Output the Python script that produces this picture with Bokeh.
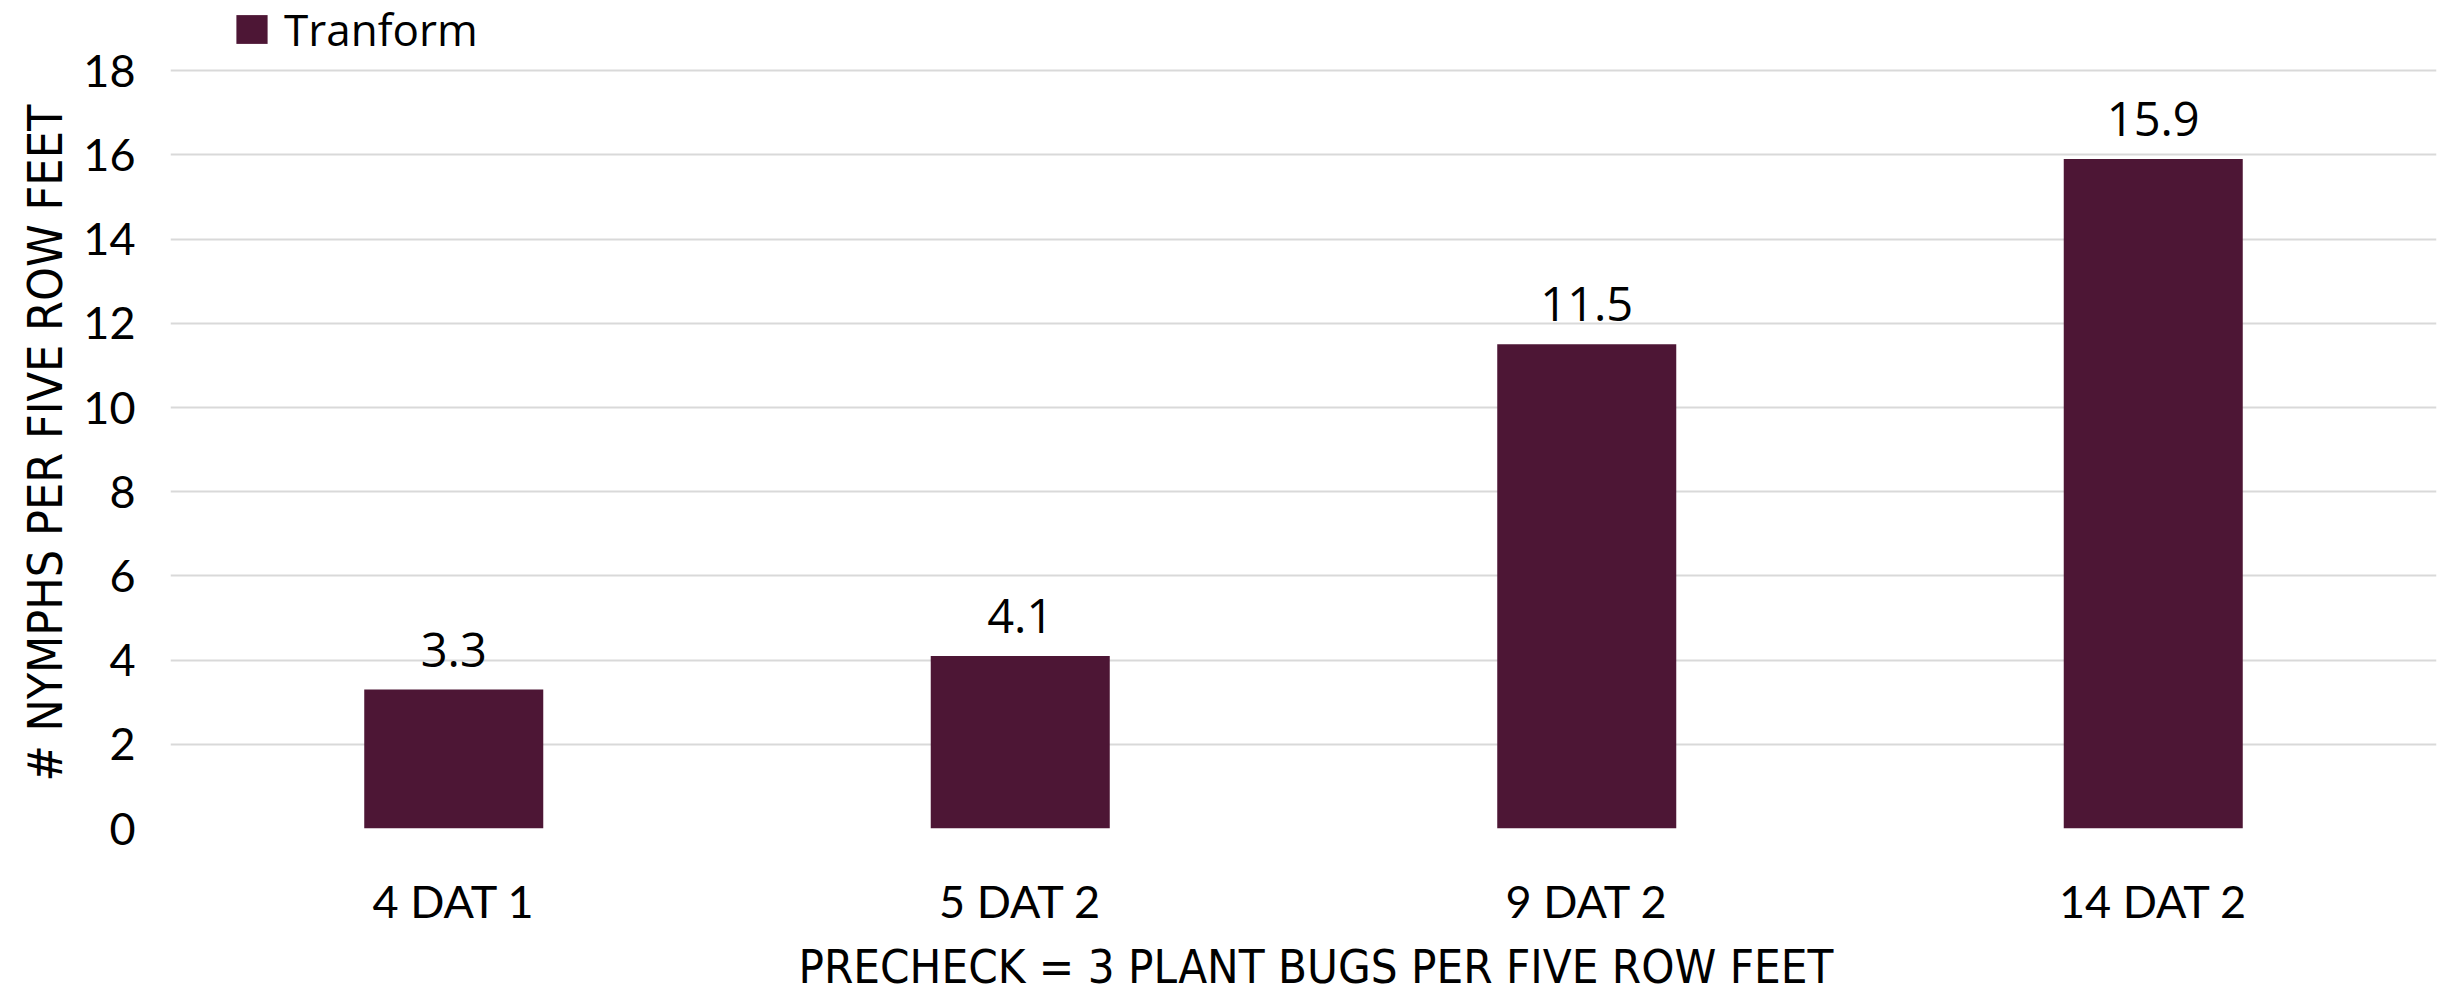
from bokeh.plotting import figure
from bokeh.models import ColumnDataSource, FactorRange, Range1d, Legend, LegendItem, FixedTicker, Title
from bokeh.core.properties import value
from bokeh.embed import file_html
from bokeh.resources import INLINE

categories = ["4 DAT 1", "5 DAT 2", "9 DAT 2", "14 DAT 2"]
values = [3.3, 4.1, 11.5, 15.9]
labels = ["3.3", "4.1", "11.5", "15.9"]
y_ticks = [0, 2, 4, 6, 8, 10, 12, 14, 16, 18]
series_name = "Tranform"
y_title = "# NYMPHS PER FIVE ROW FEET"
x_title = "PRECHECK = 3 PLANT BUGS PER FIVE ROW FEET"

BAR = "#4D1635"
NARROW = "'Liberation Sans Narrow', 'DejaVu Sans Condensed', sans-serif"

# frame extends above 18 to leave room for the legend inside the plot area
FRAME_H = 828
PX_PER_UNIT = 42.1
Y_TOP = FRAME_H / PX_PER_UNIT

src = ColumnDataSource(dict(cat=categories, val=values, lab=labels))

p = figure(x_range=FactorRange(factors=categories, range_padding=0),
           y_range=Range1d(0, Y_TOP),
           frame_width=2266, frame_height=FRAME_H, output_backend="svg", toolbar_location=None,
           min_border_left=170, min_border_right=6, min_border_top=0, min_border_bottom=150)
p.outline_line_color = None
p.background_fill_color = "white"
p.border_fill_color = "white"

bars = p.vbar(x="cat", top="val", width=0.316, source=src, fill_color=BAR, line_color=None)
p.text(x="cat", y="val", text="lab", source=src, text_align="center", text_baseline="alphabetic",
       y_offset=-40, text_font=value("Open Sans"), text_font_size="47px", text_color="black")

p.yaxis.ticker = FixedTicker(ticks=y_ticks)
p.xgrid.grid_line_color = None
p.ygrid.grid_line_color = "#d9d9d9"
p.ygrid.grid_line_width = 2

for ax in (p.xaxis[0], p.yaxis[0]):
    ax.axis_line_color = None
    ax.major_tick_line_color = None
    ax.minor_tick_line_color = None
    ax.major_tick_out = 0
    ax.major_tick_in = 0
    ax.major_label_text_font = "Lato"
    ax.major_label_text_font_size = "45px"
    ax.major_label_text_color = "black"

p.yaxis.major_label_standoff = 35
p.xaxis.major_label_standoff = 45

ytitle = Title(text=y_title, align="left", offset=47, standoff=16,
               text_font=NARROW, text_font_size="48px", text_font_style="normal",
               text_color="black")
p.add_layout(ytitle, "left")

xtitle = Title(text=x_title, align="left", offset=628, standoff=13,
               text_font=NARROW, text_font_size="47px", text_font_style="normal",
               text_color="black")
p.add_layout(xtitle, "below")

legend = Legend(items=[LegendItem(label=series_name, renderers=[bars])],
                location=(62, FRAME_H - 59), orientation="horizontal",
                glyph_width=39, glyph_height=36, label_standoff=13,
                label_text_font="Open Sans", label_text_font_size="44px",
                label_text_color="black",
                label_height=36, padding=0, margin=0, spacing=0,
                border_line_color=None, background_fill_alpha=0)
p.add_layout(legend, "center")

open("out.html", "w").write(file_html(p, INLINE))
